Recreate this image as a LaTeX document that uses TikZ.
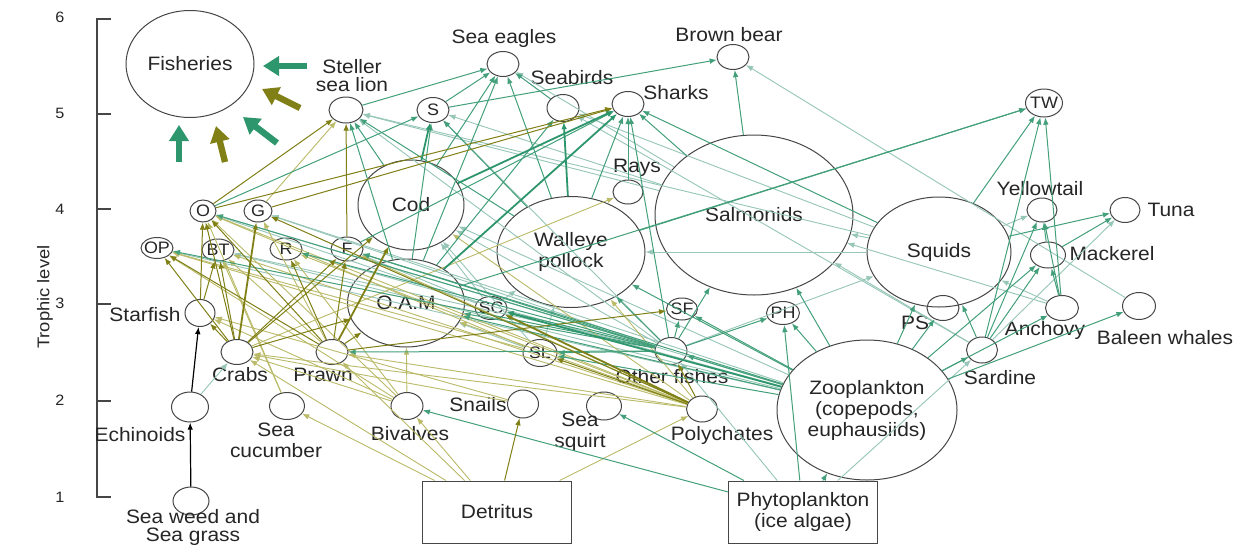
\documentclass[tikz,border=0pt]{standalone}
\usepackage{fontspec}
\setmainfont{Liberation Sans}[FakeStretch=1.08]
\usepackage{tikz}
\usetikzlibrary{arrows.meta,shapes.geometric}

\definecolor{grn}{RGB}{46,150,108}
\definecolor{olv}{RGB}{128,128,22}
\definecolor{pal}{RGB}{150,198,184}
\definecolor{khk}{RGB}{186,186,104}
\definecolor{ink}{RGB}{70,70,70}

\tikzset{
  sp/.style={ellipse,draw=ink,line width=0.5pt,inner sep=0pt,align=center},
  sm/.style={sp,minimum width=16pt,minimum height=12.5pt},
  abbr/.style={sm,label={[font=\fontsize{8.3}{9}\selectfont]center:#1}},
  box/.style={rectangle,draw=ink,line width=0.5pt,minimum width=74.5pt,minimum height=31pt,align=center},
  lbl/.style={inner sep=0pt,align=center},
  arr/.style={-{Latex[length=3.6pt,width=2.8pt]}},
  gthk/.style={arr,draw=grn,line width=0.9pt},
  gln/.style={arr,draw=grn!90,line width=0.5pt},
  pale/.style={arr,draw=pal,line width=0.45pt},
  oln/.style={arr,draw=olv,line width=0.5pt},
  othk/.style={arr,draw=olv,line width=0.9pt},
  kh/.style={arr,draw=khk,line width=0.45pt},
  blk/.style={arr,draw=black,line width=0.6pt},
  fatg/.style={draw=grn,line width=3.2pt,-{Triangle[length=8pt,width=9.5pt]}},
  fato/.style={fatg,draw=olv}
}

\begin{document}
\begin{tikzpicture}[x=0.5pt,y=-0.5pt,font=\fontsize{9.7}{10.5}\selectfont,text=black!85]
\fill[white] (0,0) rectangle (1238,547);
\useasboundingbox (0,0) rectangle (1238,547);

\draw[ink,line width=0.6pt] (111,19) -- (97,19) -- (97,497) -- (111,497);
\foreach \yy in {114,209,304,401} \draw[ink,line width=0.6pt] (97,\yy) -- (111,\yy);
\foreach \lv/\yy in {6/17,5/113,4/209,3/303,2/400,1/497}
  \node[lbl,font=\fontsize{7.5}{8}\selectfont] (lv\lv) at (60,\yy) {\lv};
\node[lbl,rotate=90,font=\fontsize{8.5}{9}\selectfont] (ylab) at (45,297) {Trophic level};

\node[sp,minimum width=64pt,minimum height=53.5pt] (fish) at (190,64) {Fisheries};
\node[sm,minimum width=17pt,minimum height=13pt] (ssl) at (346,110) {};
\node[lbl] (sslL) at (352,76) {Steller\\[-1.5pt]sea lion};
\node[abbr=S] (sS) at (433,110) {};
\node[sm] (seagl) at (503,64) {};
\node[lbl] (seaglL) at (504,38) {Sea eagles};
\node[sm,minimum height=13.5pt] (sbird) at (563,108) {};
\node[lbl] (sbirdL) at (572,78) {Seabirds};
\node[sm] (shark) at (628,104) {};
\node[lbl] (sharkL) at (676,93) {Sharks};
\node[sm] (bbear) at (733,57) {};
\node[lbl] (bbearL) at (729,35) {Brown bear};
\node[sm,minimum width=15pt,minimum height=12pt] (rays) at (628,192) {};
\node[lbl] (raysL) at (637,168) {Rays};
\node[abbr=TW,minimum width=18.5pt,minimum height=14pt] (nTW) at (1044,103) {};

\node[sp,minimum width=53pt,minimum height=45pt] (cod) at (411,205) {Cod};
\node[sp,minimum width=74pt,minimum height=55.5pt] (wp) at (571,252) {Walleye\\pollock};
\node[sp,minimum width=99pt,minimum height=80pt] (salm) at (754,215) {Salmonids};
\node[sp,minimum width=72pt,minimum height=55pt] (squid) at (939,252) {Squids};
\node[sp,minimum width=58.5pt,minimum height=44pt] (oam) at (406,303) {O.A.M};
\node[sp,minimum width=90pt,minimum height=70pt] (zoo) at (867,410) {Zooplankton\\(copepods,\\euphausiids)};

\node[abbr=O,minimum width=13pt,minimum height=11pt] (nO) at (203,211) {};
\node[abbr=G,minimum width=14pt,minimum height=11pt] (nG) at (258,211) {};
\node[abbr=OP,minimum height=10.5pt] (nOP) at (157,248) {};
\node[abbr=BT,minimum height=11pt] (nBT) at (218,250) {};
\node[abbr=R,minimum height=11pt] (nR) at (286,249) {};
\node[abbr=F,minimum height=12pt] (nF) at (347,249) {};
\node[abbr=SC,minimum height=11.5pt] (nSC) at (491,308) {};
\node[abbr=SL,minimum width=17pt,minimum height=13.5pt] (nSL) at (540,353) {};
\node[abbr=SF,minimum width=15.5pt,minimum height=11pt] (nSF) at (682,309) {};
\node[abbr=PH,minimum width=16.5pt,minimum height=11.5pt] (nPH) at (783,313) {};

\node[sm,minimum width=15pt,minimum height=13.5pt] (star) at (200,313) {};
\node[lbl] (starL) at (145,315) {Starfish};
\node[sm] (crab) at (237,352) {};
\node[lbl] (crabL) at (240,375) {Crabs};
\node[sm] (prawn) at (332,352) {};
\node[lbl] (prawnL) at (323,375) {Prawn};
\node[sm,minimum width=18.5pt,minimum height=15pt] (echi) at (190,407) {};
\node[lbl] (echiL) at (140,435) {Echinoids};
\node[sm,minimum width=17.5pt,minimum height=13.5pt] (scuc) at (287,406) {};
\node[lbl] (scucL) at (276,440) {Sea\\cucumber};
\node[sm,minimum width=18pt,minimum height=14pt] (weed) at (191,501) {};
\node[lbl,font=\fontsize{9.7}{9}\selectfont] (weedL) at (193,527) {Sea weed and\\Sea grass};
\node[sm,minimum height=13.5pt] (biv) at (407,406) {};
\node[lbl] (bivL) at (410,434) {Bivalves};
\node[sm,minimum width=15.5pt,minimum height=14pt] (snail) at (523,404) {};
\node[lbl] (snailL) at (478,405) {Snails};
\node[sm,minimum width=17.5pt,minimum height=14pt] (ssq) at (604,406) {};
\node[lbl] (ssqL) at (580,432) {Sea\\squirt};
\node[sm,minimum width=15.5pt,minimum height=13pt] (poly) at (702,409) {};
\node[lbl] (polyL) at (722,435) {Polychates};
\node[sm,minimum height=13.5pt] (ofish) at (671,351) {};
\node[lbl] (ofishL) at (672,377) {Other fishes};

\node[sm] (nPS) at (943,308) {};
\node[lbl] (nPSL) at (915,323) {PS};
\node[sm,minimum width=15.5pt,minimum height=13pt] (sard) at (982,350) {};
\node[lbl] (sardL) at (1000,378) {Sardine};
\node[sm,minimum width=16.5pt] (anch) at (1062,308) {};
\node[lbl] (anchL) at (1045,330) {Anchovy};
\node[sm,minimum width=16.5pt,minimum height=13.5pt] (baleen) at (1139,306) {};
\node[lbl] (baleenL) at (1165,338) {Baleen whales};
\node[sm,minimum width=17.5pt,minimum height=13pt] (mack) at (1048,255) {};
\node[lbl] (mackL) at (1112,254) {Mackerel};
\node[sm,minimum width=15pt,minimum height=12pt] (ytail) at (1042,210) {};
\node[lbl] (ytailL) at (1040,189) {Yellowtail};
\node[sm,minimum width=15pt] (tuna) at (1125,210) {};
\node[lbl] (tunaL) at (1171,210) {Tuna};

\node[box] (detr) at (497,512) {Detritus};
\node[box] (phyto) at (803,512) {Phytoplankton\\(ice algae)};

\foreach \src/\dst in {salm/ssl,squid/ssl,ofish/ssl,salm/seagl,salm/sS,ofish/sS,sard/sbird,squid/sbird,
  baleen/bbear,ofish/cod,zoo/cod,nSC/cod,nSL/cod,nSC/wp,nSL/wp,squid/wp,sard/salm,anch/salm,squid/salm,
  ofish/squid,anch/squid,nSL/oam,phyto/ofish,phyto/sard,squid/ytail,sard/tuna,zoo/nO,nSC/nO,ofish/nG,zoo/nG,
  zoo/nOP,ofish/nBT,zoo/nBT,zoo/nR,nSC/nF,echi/crab}
  \draw[pale] (\src) -- (\dst);

\foreach \src/\dst in {crab/rays,poly/cod,poly/wp,poly/oam,biv/oam,scuc/nO,biv/nO,poly/nO,nSL/nO,prawn/nG,
  poly/nOP,biv/nOP,nSL/nOP,prawn/nBT,poly/nBT,scuc/nBT,poly/nR,biv/nR,poly/nF,biv/star,snail/star,
  detr/crab,biv/crab,poly/crab,snail/crab,detr/prawn,poly/prawn,detr/scuc,detr/biv,detr/poly,nG/ssl}
  \draw[kh] (\src) -- (\dst);

\foreach \src/\dst in {oam/ssl,cod/ssl,wp/ssl,ssl/seagl,sS/seagl,cod/seagl,oam/seagl,wp/seagl,sbird/seagl,
  nO/sS,oam/sS,wp/sS,oam/sbird,wp/shark,rays/shark,ofish/shark,salm/shark,squid/shark,nF/shark,
  sS/bbear,salm/bbear,wp/nTW,oam/nTW,squid/nTW,sard/nTW,anch/nTW,zoo/wp,ofish/wp,zoo/salm,ofish/salm,
  zoo/squid,sard/squid,zoo/oam,ofish/oam,zoo/ofish,ofish/nSC,zoo/nSL,ofish/nSL,ofish/nSF,zoo/nSF,
  phyto/nPH,zoo/nPH,ofish/nPH,zoo/nPS,zoo/sard,zoo/anch,zoo/mack,sard/mack,anch/mack,sard/ytail,
  anch/ytail,mack/ytail,mack/tuna,squid/tuna,zoo/baleen,ofish/nO,ofish/nOP,ofish/nR,zoo/nF,ofish/nF,
  ofish/prawn,phyto/biv,phyto/ssq,phyto/zoo}
  \draw[gln] (\src) -- (\dst);

\foreach \src/\dst in {nO/ssl,nF/ssl,nO/shark,nG/shark,crab/cod,crab/oam,prawn/oam,poly/ofish,poly/nSL,
  prawn/nSF,star/nO,crab/nO,prawn/nO,poly/nG,crab/nOP,prawn/nOP,star/nBT,crab/nBT,prawn/nR,prawn/nF,
  crab/nF,crab/star,detr/snail}
  \draw[oln] (\src) -- (\dst);

\foreach \src/\dst in {cod/sS,oam/shark,cod/shark,wp/sbird,zoo/nSC}
  \draw[gthk] (\src) -- (\dst);
\foreach \src/\dst in {prawn/cod,crab/nG,poly/nSC}
  \draw[othk] (\src) -- (\dst);
\draw[blk] (weed) -- (echi);
\draw[blk] (echi) -- (star);

\draw[fatg] (307,66) -- (263,66);
\draw[fato] (300,108) -- (262,89);
\draw[fatg] (277,143) -- (243,117);
\draw[fatg] (179,162) -- (179,125);
\draw[fato] (225,162) -- (216,126);
\end{tikzpicture}
\end{document}
